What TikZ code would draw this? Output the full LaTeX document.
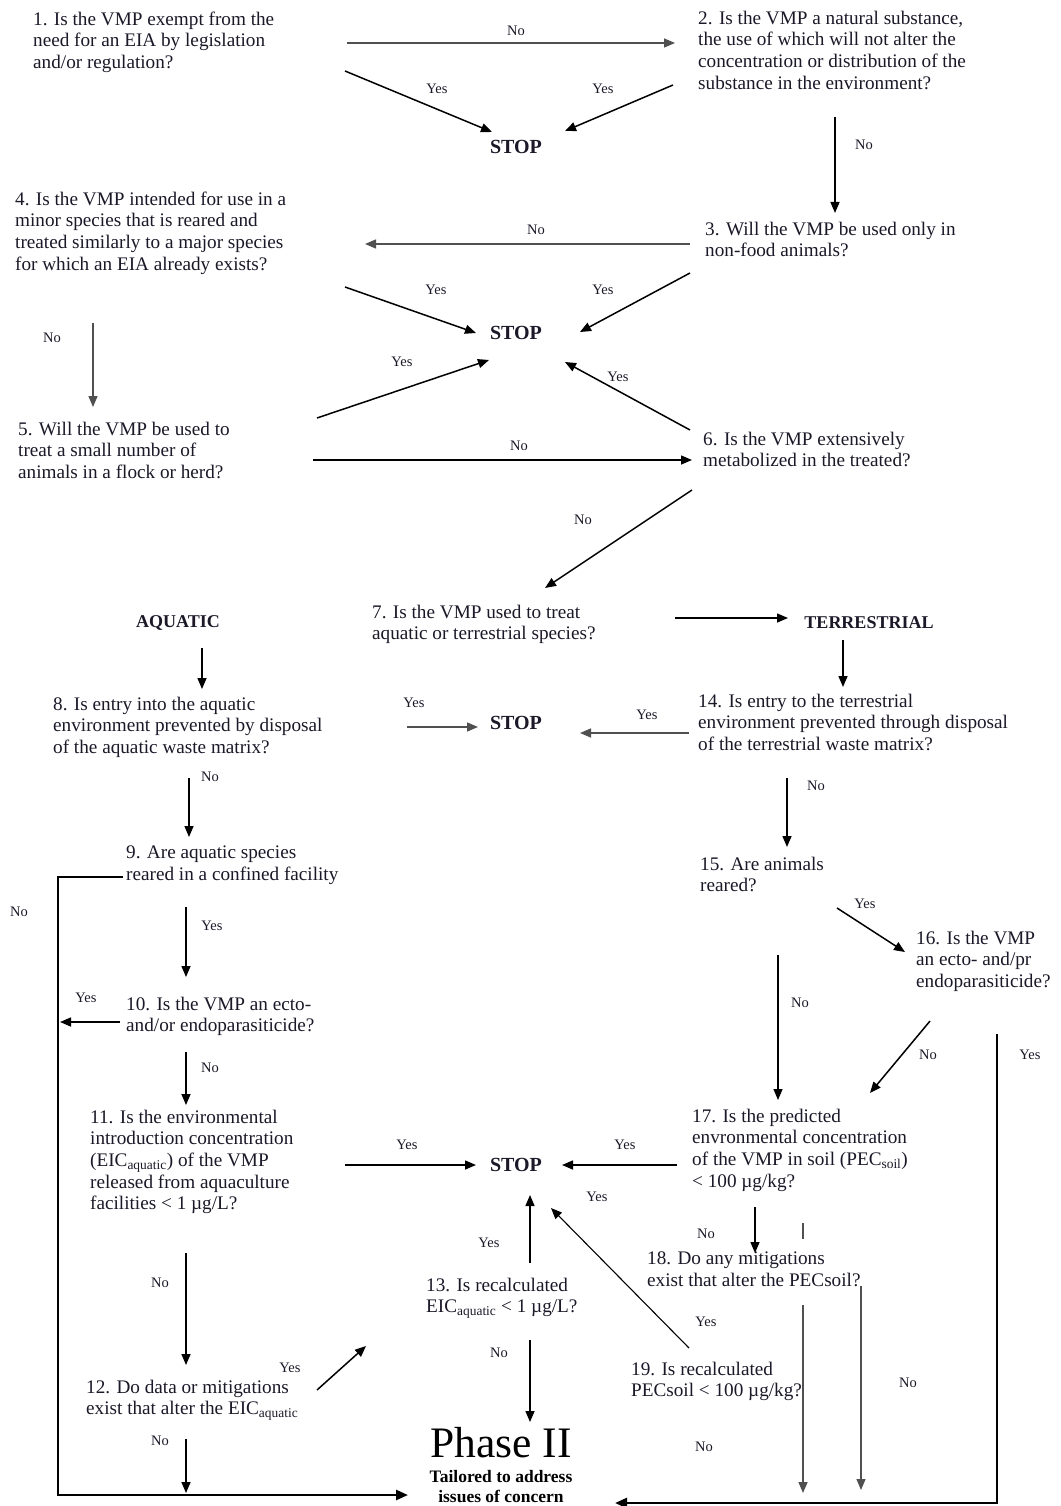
\documentclass[tikz,border=0pt]{standalone}
\usepackage{fontspec}
\setmainfont{Liberation Serif}
\usetikzlibrary{arrows.meta}
\definecolor{ink}{RGB}{28,24,40}
\definecolor{lgray}{RGB}{80,80,80}
\tikzset{
  q/.style={anchor=north west, inner sep=0pt, align=left, text=ink, font=\fontsize{19.2}{21.7}\selectfont},
  bw/.style={inner sep=0pt, text=ink, font=\fontsize{20}{22}\selectfont\bfseries},
  bwt/.style={inner sep=0pt, text=ink, font=\fontsize{18}{20}\selectfont\bfseries},
  lab/.style={inner sep=0pt, text=ink, font=\fontsize{14.5}{16}\selectfont},
  arr/.style={line width=1.5pt, draw=black, -{Triangle[length=11pt,width=9pt]}},
  garr/.style={arr, draw=lgray},
  tarr/.style={arr, line width=1.1pt},
  frame/.style={line width=2.5pt, draw=black, -{Triangle[length=12pt,width=10pt]}}
}
\begin{document}
\begin{tikzpicture}[x=1pt,y=-1pt]
\fill[white] (0,0) rectangle (1060,1506);
\path[use as bounding box] (0,0) rectangle (1060,1506);

% question texts
\node[q] (q1) at (33,11.5) {1. Is the VMP exempt from the\\need for an EIA by legislation\\and/or regulation?};
\node[q] (q2) at (698,10.5) {2. Is the VMP a natural substance,\\the use of which will not alter the\\concentration or distribution of the\\substance in the environment?};
\node[q] (q3) at (705,221.5) {3. Will the VMP be used only in\\non-food animals?};
\node[q] (q4) at (15,191.5) {4. Is the VMP intended for use in a\\minor species that is reared and\\treated similarly to a major species\\for which an EIA already exists?};
\node[q] (q5) at (18,421.5) {5. Will the VMP be used to\\treat a small number of\\animals in a flock or herd?};
\node[q] (q6) at (703,431.5) {6. Is the VMP extensively\\metabolized in the treated?};
\node[q] (q7) at (372,604.5) {7. Is the VMP used to treat\\aquatic or terrestrial species?};
\node[q] (q8) at (53,696.5) {8. Is entry into the aquatic\\environment prevented by disposal\\of the aquatic waste matrix?};
\node[q] (q14) at (698,693.5) {14. Is entry to the terrestrial\\environment prevented through disposal\\of the terrestrial waste matrix?};
\node[q] (q9) at (126,845.5) {9. Are aquatic species\\reared in a confined facility};
\node[q] (q10) at (126,996.5) {10. Is the VMP an ecto-\\and/or endoparasiticide?};
\node[q] (q11) at (90,1109.5) {11. Is the environmental\\introduction concentration\\(EIC\textsubscript{aquatic}) of the VMP\\released from aquaculture\\facilities < 1 µg/L?};
\node[q] (q12) at (86,1379.5) {12. Do data or mitigations\\exist that alter the EIC\textsubscript{aquatic}};
\node[q] (q13) at (426,1277.5) {13. Is recalculated\\EIC\textsubscript{aquatic} < 1 µg/L?};
\node[q] (q15) at (700,856.5) {15. Are animals\\reared?};
\node[q] (q16) at (916,930.5) {16. Is the VMP\\an ecto- and/pr\\endoparasiticide?};
\node[q] (q17) at (692,1108.5) {17. Is the predicted\\envronmental concentration\\of the VMP in soil (PEC\textsubscript{soil})\\< 100 µg/kg?};
\node[q] (q18) at (647,1251.5) {18. Do any mitigations\\exist that alter the PECsoil?};
\node[q] (q19) at (631,1361.5) {19. Is recalculated\\PECsoil < 100 µg/kg?};

% bold nodes
\node[bw] (stop1) at (516,147) {STOP};
\node[bw] (stop2) at (516,333) {STOP};
\node[bw] (stop3) at (516,723) {STOP};
\node[bw] (stop4) at (516,1165) {STOP};
\node[bwt] (aq) at (178,623) {AQUATIC};
\node[bwt] (ter) at (869,623) {TERRESTRIAL};
\node[anchor=base, inner sep=0pt, text=black, font=\fontsize{43.5}{45}\selectfont] (ph) at (501,1457) {Phase II};
\node[anchor=north, inner sep=0pt, align=center, text=black, font=\fontsize{17.5}{20}\selectfont\bfseries] (ph2) at (501,1470) {Tailored to address\\issues of concern};

% labels
\node[lab] (l1) at (516,31) {No};
\node[lab] (l2) at (437,89) {Yes};
\node[lab] (l3) at (603,89) {Yes};
\node[lab] (l4) at (864,145) {No};
\node[lab] (l5) at (536,230) {No};
\node[lab] (l6) at (436,290) {Yes};
\node[lab] (l7) at (603,290) {Yes};
\node[lab] (l8) at (52,338) {No};
\node[lab] (l9) at (402,362) {Yes};
\node[lab] (l10) at (618,377) {Yes};
\node[lab] (l11) at (519,446) {No};
\node[lab] (l12) at (583,520) {No};
\node[lab] (l13) at (414,703) {Yes};
\node[lab] (l14) at (647,715) {Yes};
\node[lab] (l15) at (210,777) {No};
\node[lab] (l16) at (816,786) {No};
\node[lab] (l17) at (19,912) {No};
\node[lab] (l18) at (212,926) {Yes};
\node[lab] (l19) at (865,904) {Yes};
\node[lab] (l20) at (86,998) {Yes};
\node[lab] (l21) at (800,1003) {No};
\node[lab] (l22) at (210,1068) {No};
\node[lab] (l23) at (928,1055) {No};
\node[lab] (l24) at (1030,1055) {Yes};
\node[lab] (l25) at (407,1145) {Yes};
\node[lab] (l26) at (625,1145) {Yes};
\node[lab] (l27) at (597,1197) {Yes};
\node[lab] (l28) at (706,1234) {No};
\node[lab] (l29) at (489,1243) {Yes};
\node[lab] (l30) at (160,1283) {No};
\node[lab] (l31) at (706,1322) {Yes};
\node[lab] (l32) at (499,1353) {No};
\node[lab] (l33) at (290,1368) {Yes};
\node[lab] (l34) at (908,1383) {No};
\node[lab] (l35) at (160,1441) {No};
\node[lab] (l36) at (704,1447) {No};

% connector end points
\coordinate (a1s) at (347,43);   \coordinate (a1e) at (675,43);
\coordinate (a2s) at (345,71);   \coordinate (a2e) at (492,132);
\coordinate (a3s) at (673,85);   \coordinate (a3e) at (565,131);
\coordinate (a4s) at (835,117);  \coordinate (a4e) at (835,213);
\coordinate (a5s) at (690,244);  \coordinate (a5e) at (365,244);
\coordinate (a6s) at (345,287);  \coordinate (a6e) at (476,333);
\coordinate (a7s) at (690,273);  \coordinate (a7e) at (580,332);
\coordinate (a8s) at (93,323);   \coordinate (a8e) at (93,407);
\coordinate (a9s) at (317,418);  \coordinate (a9e) at (489,360);
\coordinate (a10s) at (690,430); \coordinate (a10e) at (565,362);
\coordinate (a11s) at (313,460); \coordinate (a11e) at (692,460);
\coordinate (a12s) at (692,490); \coordinate (a12e) at (545,588);
\coordinate (a13s) at (675,618); \coordinate (a13e) at (788,618);
\coordinate (a14s) at (202,648); \coordinate (a14e) at (202,689);
\coordinate (a15s) at (843,640); \coordinate (a15e) at (843,687);
\coordinate (a16s) at (407,727); \coordinate (a16e) at (478,727);
\coordinate (a17s) at (689,733); \coordinate (a17e) at (580,733);
\coordinate (a18s) at (189,778); \coordinate (a18e) at (189,837);
\coordinate (a19s) at (787,778); \coordinate (a19e) at (787,847);
\coordinate (f1a) at (123,877);  \coordinate (f1b) at (58,877);
\coordinate (f1c) at (58,1495);  \coordinate (f1d) at (408,1495);
\coordinate (a21s) at (186,907); \coordinate (a21e) at (186,977);
\coordinate (a22s) at (120,1022); \coordinate (a22e) at (60,1022);
\coordinate (a23s) at (186,1052); \coordinate (a23e) at (186,1105);
\coordinate (a24s) at (837,908); \coordinate (a24e) at (905,952);
\coordinate (a25s) at (778,955); \coordinate (a25e) at (778,1100);
\coordinate (a26s) at (930,1021); \coordinate (a26e) at (870,1093);
\coordinate (a27s) at (345,1165); \coordinate (a27e) at (476,1165);
\coordinate (a28s) at (677,1165); \coordinate (a28e) at (562,1165);
\coordinate (a29s) at (530,1263); \coordinate (a29e) at (530,1195);
\coordinate (a30s) at (689,1348); \coordinate (a30e) at (551,1208);
\coordinate (a31s) at (755,1207); \coordinate (a31e) at (755,1253);
\coordinate (t1) at (803,1223);  \coordinate (t2) at (803,1239);
\coordinate (a33s) at (186,1253); \coordinate (a33e) at (186,1365);
\coordinate (a34s) at (317,1390); \coordinate (a34e) at (366,1346);
\coordinate (a35s) at (530,1340); \coordinate (a35e) at (530,1422);
\coordinate (a36s) at (186,1439); \coordinate (a36e) at (186,1493);
\coordinate (a37s) at (803,1305); \coordinate (a37e) at (803,1493);
\coordinate (a38s) at (861,1286); \coordinate (a38e) at (861,1490);
\coordinate (f2a) at (997,1034); \coordinate (f2b) at (997,1503);
\coordinate (f2c) at (615,1503);

% connectors
\draw[garr] (a1s) -- (a1e);
\draw[arr] (a2s) -- (a2e);
\draw[arr] (a3s) -- (a3e);
\draw[arr] (a4s) -- (a4e);
\draw[garr] (a5s) -- (a5e);
\draw[arr] (a6s) -- (a6e);
\draw[arr] (a7s) -- (a7e);
\draw[garr] (a8s) -- (a8e);
\draw[arr] (a9s) -- (a9e);
\draw[arr] (a10s) -- (a10e);
\draw[arr] (a11s) -- (a11e);
\draw[arr] (a12s) -- (a12e);
\draw[arr] (a13s) -- (a13e);
\draw[arr] (a14s) -- (a14e);
\draw[arr] (a15s) -- (a15e);
\draw[garr] (a16s) -- (a16e);
\draw[garr] (a17s) -- (a17e);
\draw[arr] (a18s) -- (a18e);
\draw[arr] (a19s) -- (a19e);
\draw[frame] (f1a) -- (f1b) -- (f1c) -- (f1d);
\draw[arr] (a21s) -- (a21e);
\draw[arr] (a22s) -- (a22e);
\draw[arr] (a23s) -- (a23e);
\draw[arr] (a24s) -- (a24e);
\draw[tarr] (a25s) -- (a25e);
\draw[arr] (a26s) -- (a26e);
\draw[arr] (a27s) -- (a27e);
\draw[arr] (a28s) -- (a28e);
\draw[arr] (a29s) -- (a29e);
\draw[tarr] (a30s) -- (a30e);
\draw[arr] (a31s) -- (a31e);
\draw[line width=1.8pt, draw=lgray] (t1) -- (t2);
\draw[arr] (a33s) -- (a33e);
\draw[arr] (a34s) -- (a34e);
\draw[arr] (a35s) -- (a35e);
\draw[arr] (a36s) -- (a36e);
\draw[garr] (a37s) -- (a37e);
\draw[garr, line width=1.2pt] (a38s) -- (a38e);
\draw[frame] (f2a) -- (f2b) -- (f2c);
\end{tikzpicture}
\end{document}
